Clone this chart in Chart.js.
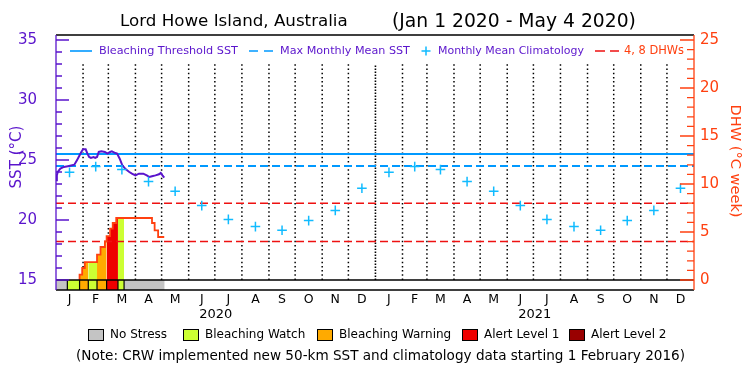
<!DOCTYPE html>
<html><head><meta charset="utf-8">
<script src="https://cdn.jsdelivr.net/npm/chart.js@4.4.1/dist/chart.umd.min.js"></script>
<style>html,body{margin:0;padding:0;background:#fff}canvas{display:block}</style>
</head><body>
<canvas id="c" width="750" height="375"></canvas>
<script>
// ---------------- data ----------------
const titleText = ['Lord Howe Island, Australia', '(Jan 1 2020 - May 4 2020)'];
const monthLabels = ['J','F','M','A','M','J','J','A','S','O','N','D','J','F','M','A','M','J','J','A','S','O','N','D'];
const monthDays = [31,29,31,30,31,30,31,31,30,31,30,31, 31,28,31,30,31,30,31,31,30,31,30,31];
const yearLabels = ['2020', '2021'];
const yearDays = [366, 365];
// monthly mean climatology (deg C), Jan..Dec
const climatology = [23.97, 24.45, 24.2, 23.2, 22.4, 21.2, 20.05, 19.45, 19.15, 19.95, 20.8, 22.65];
const mmmSST = 24.5;          // max monthly mean
const thresholdSST = 25.5;    // bleaching threshold
const dhwRefLevels = [4, 8];
// daily SST (day of 2020 starting at 0 = Jan 1)
const sstDays   = [0, 1, 2, 5, 9, 15, 21, 24, 26, 29, 31, 34, 36, 38, 40, 43, 45, 47, 49, 52, 56, 59, 62, 64, 68, 70, 73, 76, 80, 84, 87, 91, 95, 100, 104, 107, 110, 114, 118, 120, 122, 124];
const sstValues = [23.31, 23.72, 24.0, 24.28, 24.42, 24.5, 24.61, 24.97, 25.25, 25.67, 25.89, 25.89, 25.53, 25.25, 25.17, 25.25, 25.17, 25.25, 25.67, 25.72, 25.67, 25.53, 25.67, 25.72, 25.58, 25.53, 25.11, 24.56, 24.22, 24.0, 23.86, 23.72, 23.86, 23.86, 23.72, 23.58, 23.64, 23.72, 23.81, 23.92, 23.72, 23.53];
// degree heating weeks (step values starting at each day)
const dhwDays   = [27, 27, 30, 33, 47, 51, 56, 58, 62, 65, 69, 110, 113, 117, 124];
const dhwValues = [0, 0.55, 1.25, 1.87, 2.64, 3.44, 4.03, 4.58, 5.35, 5.94, 6.46, 5.94, 5.17, 4.48, 4.48];
// stress level periods
const stressStart = [0, 13, 27, 37, 47, 58, 71, 78];
const stressEnd   = [13, 27, 37, 47, 58, 71, 78, 124.5];
const stressLevel = [0, 1, 2, 1, 2, 3, 1, 0];
const stressNames = ['No Stress', 'Bleaching Watch', 'Bleaching Warning', 'Alert Level 1', 'Alert Level 2'];
const stressColors = ['#c4c4c4', '#ccff33', '#ffaa00', '#ee0000', '#990000'];
// axes
const sstTicks = [15, 20, 25, 30, 35];
const dhwTicks = [0, 5, 10, 15, 20, 25];
const noteText = '(Note: CRW implemented new 50-km SST and climatology data starting 1 February 2016)';

// ---------------- styling ----------------
const FONT = '"DejaVu Sans", sans-serif';
const PURPLE = '#5a14cc';
const ORANGE = '#ff4010';
const BLUE = '#0099ff';
const CYAN = '#11bbff';
const RED = '#ee1111';

const X_MAX = yearDays[0] + yearDays[1];
const SST_MIN = 15 - 10 / 12, SST_MAX = 35 + 5 / 12;
const DHW_MIN = -10 / 9.6, DHW_MAX = 25 + 5 / 9.6;
const GRID_TOP = 33.0;

// derived positions
const monthStarts = [];
monthDays.reduce((acc, d) => { monthStarts.push(acc); return acc + d; }, 0);
const monthCenters = monthStarts.map((s, i) => s + monthDays[i] / 2);
const yearCenters = [yearDays[0] / 2, yearDays[0] + yearDays[1] / 2];

function dhwAt(day) {
  let v = 0;
  for (let i = 0; i < dhwDays.length; i++) if (dhwDays[i] <= day) v = dhwValues[i];
  return v;
}

const datasets = [];
// climatology crosses
datasets.push({
  data: monthCenters.map((x, i) => ({ x, y: climatology[i % 12] })),
  showLine: false, pointStyle: 'cross', pointRadius: 4.8, pointBorderWidth: 1.5,
  pointBorderColor: CYAN, borderColor: CYAN, order: 0, yAxisID: 'y'
});
// SST
datasets.push({
  data: sstDays.map((x, i) => ({ x, y: sstValues[i] })),
  borderColor: PURPLE, borderWidth: 2, pointRadius: 0, order: 1, yAxisID: 'y'
});
// DHW outline
datasets.push({
  data: dhwDays.map((x, i) => ({ x, y: dhwValues[i] })),
  borderColor: ORANGE, borderWidth: 1.8, pointRadius: 0, stepped: true, order: 2, yAxisID: 'y2'
});
// threshold & MMM
datasets.push({
  data: [{ x: 0, y: thresholdSST }, { x: X_MAX, y: thresholdSST }],
  borderColor: BLUE, borderWidth: 1.8, pointRadius: 0, order: 3, yAxisID: 'y'
});
datasets.push({
  data: [{ x: 0, y: mmmSST }, { x: X_MAX, y: mmmSST }],
  borderColor: BLUE, borderWidth: 1.8, borderDash: [8, 4], pointRadius: 0, order: 3, yAxisID: 'y'
});
// DHW reference levels
const refPts = [];
dhwRefLevels.forEach(v => { refPts.push({ x: 0, y: v }, { x: X_MAX, y: v }, { x: X_MAX, y: null }); });
datasets.push({
  data: refPts, borderColor: RED, borderWidth: 1.5, borderDash: [8, 4], pointRadius: 0,
  spanGaps: false, order: 3, yAxisID: 'y2'
});
// DHW fill by stress level
stressStart.forEach((s, k) => {
  const lvl = stressLevel[k];
  if (lvl === 0) return;
  const e = stressEnd[k];
  const pts = [{ x: s, y: dhwAt(s) }];
  dhwDays.forEach((d, i) => { if (d > s && d < e) pts.push({ x: d, y: dhwValues[i] }); });
  pts.push({ x: e, y: pts[pts.length - 1].y });
  datasets.push({
    data: pts, stepped: true, borderWidth: 0, borderColor: 'rgba(0,0,0,0)',
    backgroundColor: stressColors[lvl], fill: 'origin', pointRadius: 0, order: 5, yAxisID: 'y2'
  });
});
// stress bar
stressStart.forEach((s, k) => {
  datasets.push({
    data: [{ x: s, y: 15 }, { x: stressEnd[k], y: 15 }], borderWidth: 0, borderColor: 'rgba(0,0,0,0)',
    backgroundColor: stressColors[stressLevel[k]], fill: 'start', pointRadius: 0, order: 5, yAxisID: 'y'
  });
});
const divPts = [];
stressStart.slice(1).forEach(s => { divPts.push({ x: s, y: SST_MIN }, { x: s, y: 15 }, { x: s, y: null }); });
datasets.push({ data: divPts, borderColor: '#000', borderWidth: 1.2, pointRadius: 0, spanGaps: false, order: 4, yAxisID: 'y' });
// dotted month grid
const gridPts = [];
monthStarts.slice(1).forEach((b, i) => {
  if (b === yearDays[0]) return;
  gridPts.push({ x: b, y: 15 }, { x: b, y: GRID_TOP }, { x: b, y: null });
});
datasets.push({ data: gridPts, borderColor: '#000', borderWidth: 1.5, borderDash: [1.5, 2.7], pointRadius: 0, spanGaps: false, order: 6, yAxisID: 'y' });
datasets.push({ data: [{ x: yearDays[0], y: 15 }, { x: yearDays[0], y: GRID_TOP }], borderColor: '#000', borderWidth: 1.6, borderDash: [1.6, 1.4], pointRadius: 0, order: 6, yAxisID: 'y' });

function fitText(ctx, text, x, y, width, base, color, align) {
  ctx.font = base + 'px ' + FONT;
  const w = ctx.measureText(text).width;
  const size = base * width / w;
  ctx.font = size.toFixed(2) + 'px ' + FONT;
  ctx.fillStyle = color;
  ctx.textAlign = align || 'left';
  ctx.fillText(text, x, y);
}

const framePlugin = {
  id: 'frame',
  afterDatasetsDraw(chart) {
    const ctx = chart.ctx, ca = chart.chartArea;
    const yS = chart.scales.y, yD = chart.scales.y2;
    ctx.save();
    ctx.lineWidth = 1.3;
    ctx.strokeStyle = '#000';
    const y15 = yS.getPixelForValue(15);
    ctx.beginPath();
    ctx.moveTo(ca.left, ca.top); ctx.lineTo(ca.right, ca.top);
    ctx.moveTo(ca.left, y15); ctx.lineTo(ca.right, y15);
    ctx.moveTo(ca.left, ca.bottom); ctx.lineTo(ca.right, ca.bottom);
    ctx.stroke();
    // left axis
    ctx.strokeStyle = PURPLE;
    ctx.beginPath();
    ctx.moveTo(ca.left, ca.top); ctx.lineTo(ca.left, ca.bottom);
    for (let v = sstTicks[0]; v <= sstTicks[sstTicks.length - 1]; v++) {
      const py = yS.getPixelForValue(v);
      const len = sstTicks.includes(v) ? 13 : 6;
      ctx.moveTo(ca.left, py); ctx.lineTo(ca.left + len, py);
    }
    ctx.stroke();
    // right axis
    ctx.strokeStyle = ORANGE;
    ctx.beginPath();
    ctx.moveTo(ca.right, ca.top); ctx.lineTo(ca.right, ca.bottom);
    for (let v = dhwTicks[0]; v <= dhwTicks[dhwTicks.length - 1]; v++) {
      const py = yD.getPixelForValue(v);
      const len = dhwTicks.includes(v) ? 14 : 7;
      ctx.moveTo(ca.right, py); ctx.lineTo(ca.right - len, py);
    }
    ctx.stroke();
    ctx.restore();
  },
  afterDraw(chart) {
    const ctx = chart.ctx, ca = chart.chartArea, xS = chart.scales.x;
    ctx.save();
    ctx.textBaseline = 'middle';
    // title
    fitText(ctx, titleText[0], 120, 22, 228, 16, '#000');
    fitText(ctx, titleText[1], 392, 22, 244, 16, '#000');
    // top legend
    const ly = 51;
    ctx.lineWidth = 1.6;
    ctx.strokeStyle = BLUE;
    ctx.beginPath(); ctx.moveTo(70, ly); ctx.lineTo(92, ly); ctx.stroke();
    ctx.beginPath(); ctx.moveTo(249, ly); ctx.lineTo(258, ly); ctx.moveTo(264, ly); ctx.lineTo(273, ly); ctx.stroke();
    ctx.strokeStyle = CYAN; ctx.lineWidth = 1.5;
    ctx.beginPath(); ctx.moveTo(421.5, ly); ctx.lineTo(430.5, ly); ctx.moveTo(426, ly - 4.5); ctx.lineTo(426, ly + 4.5); ctx.stroke();
    ctx.strokeStyle = RED;
    ctx.beginPath(); ctx.moveTo(595, ly); ctx.lineTo(605, ly); ctx.moveTo(610, ly); ctx.lineTo(619, ly); ctx.stroke();
    fitText(ctx, 'Bleaching Threshold SST', 99, ly, 139, 11, PURPLE);
    fitText(ctx, 'Max Monthly Mean SST', 280, ly, 130, 11, PURPLE);
    fitText(ctx, 'Monthly Mean Climatology', 438, ly, 146, 11, PURPLE);
    fitText(ctx, '4, 8 DHWs', 624, ly, 60, 11, ORANGE);
    // year labels
    ctx.font = '13px ' + FONT; ctx.fillStyle = '#000'; ctx.textAlign = 'center';
    yearLabels.forEach((t, i) => ctx.fillText(t, xS.getPixelForValue(yearCenters[i]), 315));
    // axis titles
    ctx.save();
    ctx.translate(17, 157); ctx.rotate(-Math.PI / 2);
    fitText(ctx, 'SST (°C)', 0, 0, 63, 15, PURPLE, 'center');
    ctx.restore();
    ctx.save();
    ctx.translate(735, 161); ctx.rotate(Math.PI / 2);
    fitText(ctx, 'DHW (°C week)', 0, 0, 113, 15, ORANGE, 'center');
    ctx.restore();
    // stress legend
    const boxX = [88, 183, 317, 462, 569];
    const by = 335;
    ctx.font = '12px ' + FONT;
    stressNames.forEach((n, i) => {
      ctx.fillStyle = stressColors[i];
      ctx.fillRect(boxX[i], by - 6, 16, 12);
      ctx.strokeStyle = '#000'; ctx.lineWidth = 1;
      ctx.strokeRect(boxX[i] + 0.5, by - 5.5, 15, 11);
      ctx.fillStyle = '#000'; ctx.textAlign = 'left';
      ctx.fillText(n, boxX[i] + 22, by);
    });
    fitText(ctx, noteText, 76, 356, 609, 12, '#000');
    ctx.restore();
  }
};

new Chart(document.getElementById('c'), {
  type: 'line',
  data: { datasets },
  options: {
    responsive: false, animation: false, devicePixelRatio: 1,
    layout: { padding: { top: 35, left: 0, right: 0, bottom: 0 } },
    plugins: { legend: { display: false }, title: { display: false }, tooltip: { enabled: false } },
    elements: { line: { tension: 0 }, point: { radius: 0 } },
    scales: {
      x: {
        type: 'linear', min: 0, max: X_MAX,
        grid: { display: false, drawTicks: false }, border: { display: false },
        afterBuildTicks: s => { s.ticks = monthCenters.map(v => ({ value: v })); },
        afterFit: s => { s.height = 85; },
        ticks: { autoSkip: false, maxRotation: 0, minRotation: 0, padding: 2, color: '#000',
                 font: { family: FONT, size: 12.5 }, callback: (v, i) => monthLabels[i] }
      },
      y: {
        position: 'left', min: SST_MIN, max: SST_MAX,
        grid: { display: false, drawTicks: false }, border: { display: false },
        afterBuildTicks: s => { s.ticks = sstTicks.map(v => ({ value: v })); },
        afterFit: s => { s.width = 56; },
        ticks: { padding: 19, color: PURPLE, font: { family: FONT, size: 15 }, callback: v => String(v) }
      },
      y2: {
        position: 'right', min: DHW_MIN, max: DHW_MAX,
        grid: { display: false, drawTicks: false }, border: { display: false },
        afterBuildTicks: s => { s.ticks = dhwTicks.map(v => ({ value: v })); },
        afterFit: s => { s.width = 56; },
        ticks: { padding: 6, color: ORANGE, font: { family: FONT, size: 15 }, callback: v => String(v) }
      }
    }
  },
  plugins: [framePlugin]
});
</script>
</body></html>
